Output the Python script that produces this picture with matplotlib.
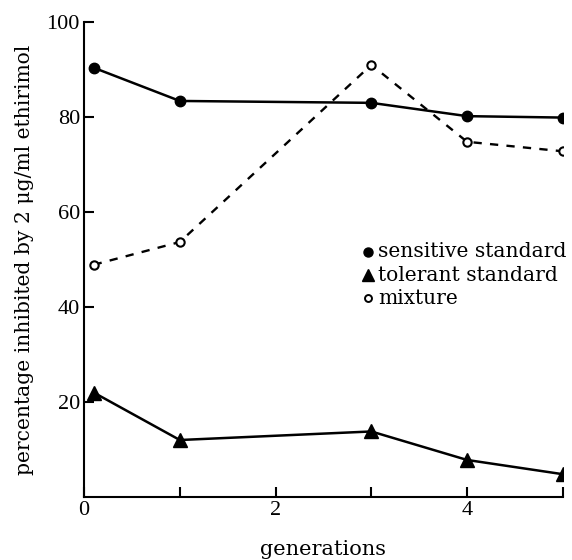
import matplotlib
matplotlib.use("Agg")
import matplotlib.pyplot as plt

# values
gen = [0.1, 1, 3, 4, 5]
sensitive = [90.4, 83.4, 83.0, 80.2, 79.9]
tolerant = [22.0, 12.0, 13.8, 7.8, 4.8]
mixture = [48.9, 53.7, 91.0, 74.8, 72.8]

x_ticks = [0, 1, 2, 3, 4, 5]
x_labels = ["0", "", "2", "", "4", ""]
y_ticks = [20, 40, 60, 80, 100]

legend_names = ["sensitive standard", "tolerant standard", "mixture"]

plt.rcParams["font.family"] = ["DejaVu Serif"]

fig = plt.figure(figsize=(5.72, 5.60), dpi=100)
ax = fig.add_axes([0.147, 0.1125, 0.837, 0.848])

ax.plot(gen, sensitive, color="black", lw=1.8, marker="o", ms=7.5, zorder=3)
ax.plot(gen, tolerant, color="black", lw=1.8, marker="^", ms=10, zorder=3)
ax.plot(gen, mixture, color="black", lw=1.7, linestyle=(0, (3.5, 3.5)),
        marker="o", ms=6, mfc="white", mec="black", mew=1.5, zorder=3)

ax.set_xlim(0, 5)
ax.set_ylim(0, 100)
ax.set_xticks(x_ticks)
ax.set_xticklabels(x_labels)
ax.set_yticks(y_ticks)
for s in ["top", "right"]:
    ax.spines[s].set_visible(False)
for s in ["left", "bottom"]:
    ax.spines[s].set_linewidth(1.5)
ax.tick_params(direction="in", length=7, width=1.5, labelsize=16, pad=3)
for lab in ax.get_xticklabels() + ax.get_yticklabels():
    lab.set_family("Liberation Serif")

ax.set_ylabel("percentage inhibited by 2 \u03bcg/ml ethirimol", fontsize=14.6, labelpad=9)
ax.set_xlabel("generations", fontsize=15, labelpad=14)

# legend drawn as markers + text, like the original
leg_y = [51.6, 46.7, 41.9]
markers = [dict(marker="o", ms=6.5, color="black"),
           dict(marker="^", ms=9, color="black"),
           dict(marker="o", ms=5, mfc="white", mec="black", mew=1.4)]
for yy, name, mk in zip(leg_y, legend_names, markers):
    ax.plot([2.96], [yy], linestyle="none", clip_on=False, **mk)
    ax.text(3.07, yy, name, fontsize=14.6, va="center", ha="left")

fig.savefig("out.png", dpi=100)
